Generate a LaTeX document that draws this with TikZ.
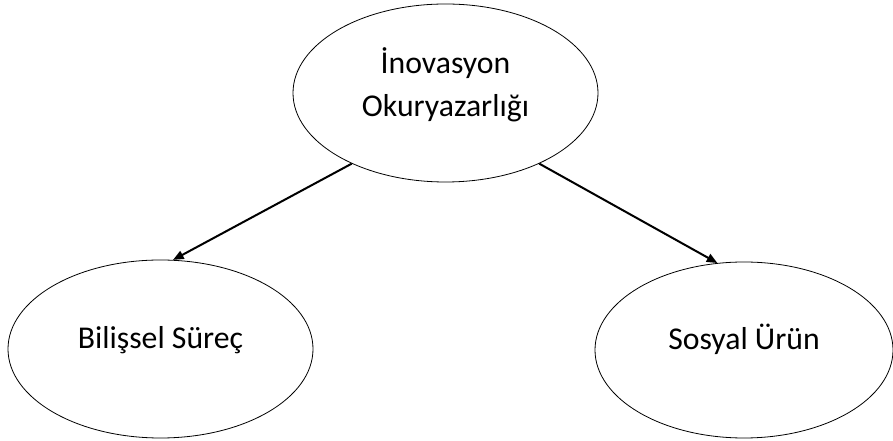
\documentclass[tikz,border=0pt]{standalone}
\usepackage{fontspec}
\setmainfont{Carlito}
\usetikzlibrary{shapes.geometric, arrows.meta}

\begin{document}
\begin{tikzpicture}[
    x=0.75pt, y=-0.75pt,
    concept/.style={ellipse, draw=black, line width=0.6pt, inner sep=0pt, minimum width=228.75pt, minimum height=133.5pt, align=center, font=\fontsize{23.8}{32}\selectfont},
    sub/.style={concept, text height=16pt, text depth=17pt},
    arr/.style={-{Triangle[length=8pt, width=6.5pt]}, line width=1.5pt, black},
]
\useasboundingbox (0,0) rectangle (893,441);

\node[concept, text depth=16pt] (innov) at (445.5,93) {İnovasyon\\Okuryazarlığı};
\node[sub] (bilis) at (160.5,349) {Bilişsel Süreç};
\node[sub, minimum width=223.5pt, minimum height=132pt] (sosyal) at (744,350) {Sosyal Ürün};

% Arrows
\draw[arr] (innov.217) -- (bilis.82);
\draw[arr] (innov.323) -- (sosyal.107);

\end{tikzpicture}
\end{document}
